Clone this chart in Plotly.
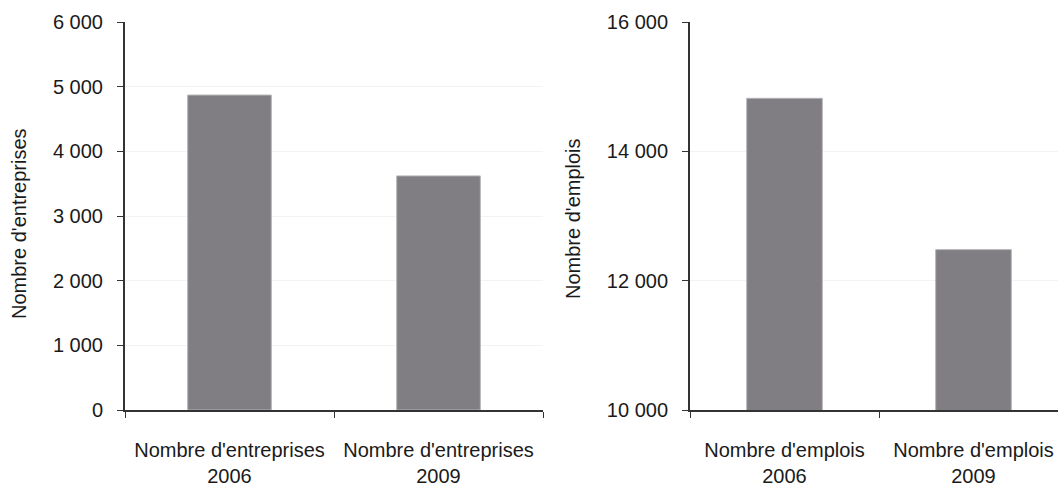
import plotly.graph_objects as go

# Categories and values for the two panels
cats_entreprises = ["Nombre d'entreprises<br>2006", "Nombre d'entreprises<br>2009"]
vals_entreprises = [4870, 3620]

cats_emplois = ["Nombre d'emplois<br>2006", "Nombre d'emplois<br>2009"]
vals_emplois = [14820, 12480]

ticks_entreprises = [0, 1000, 2000, 3000, 4000, 5000, 6000]
ticks_emplois = [10000, 12000, 14000, 16000]

W, H = 1058, 487
FONT = "Liberation Sans, Arial, sans-serif"
FS = 20
BAR = "#807e83"
AXIS = "#333333"
GRID = "#f3f3f3"
TXT = "#1a1a1a"

fig = go.Figure()
fig.add_trace(go.Bar(x=cats_entreprises, y=vals_entreprises, width=0.4,
                     marker=dict(color=BAR, line=dict(color="#b4b3b6", width=1)),
                     xaxis="x", yaxis="y", hoverinfo="skip"))
fig.add_trace(go.Bar(x=cats_emplois, y=vals_emplois, width=0.4,
                     marker=dict(color=BAR, line=dict(color="#b4b3b6", width=1)),
                     xaxis="x2", yaxis="y2", hoverinfo="skip"))

y0 = 1 - 410 / H
y1 = 1 - 22 / H

common_x = dict(type="category", showline=True, linecolor=AXIS, linewidth=2,
                ticks="outside", ticklen=6, tickcolor=AXIS, tickwidth=1,
                tickson="boundaries", showgrid=False, zeroline=False,
                tickangle=0, automargin=False,
                ticklabelstandoff=21, tickfont=dict(size=FS, color=TXT))
common_y = dict(showline=True, linecolor=AXIS, linewidth=2,
                ticks="outside", ticklen=6, tickcolor=AXIS, tickwidth=1,
                showgrid=True, gridcolor=GRID, gridwidth=1, zeroline=False,
                tickformat=",d", ticklabelstandoff=10, automargin=False,
                tickfont=dict(size=FS, color=TXT))

fig.update_layout(
    width=W, height=H,
    margin=dict(l=0, r=0, t=0, b=0),
    paper_bgcolor="white", plot_bgcolor="white",
    showlegend=False,
    separators=", ",
    font=dict(family=FONT, size=FS, color=TXT),
    xaxis=dict(domain=[125 / W, 543 / W], range=[-0.5, 1.5], anchor="y", **common_x),
    yaxis=dict(domain=[y0, y1], range=[0, 6000], tickvals=ticks_entreprises,
               anchor="x", **common_y),
    xaxis2=dict(domain=[690 / W, 1], range=[-0.5, 1.5 - 10 / 189], anchor="y2", **common_x),
    yaxis2=dict(domain=[y0, y1], range=[10000, 16000], tickvals=ticks_emplois,
                anchor="x2", **common_y),
    annotations=[
        dict(text="Nombre d'entreprises", textangle=-90, x=19 / W, y=1 - 224 / H,
             xref="paper", yref="paper", showarrow=False,
             xanchor="center", yanchor="middle", font=dict(size=FS)),
        dict(text="Nombre d'emplois", textangle=-90, x=573 / W, y=1 - 219 / H,
             xref="paper", yref="paper", showarrow=False,
             xanchor="center", yanchor="middle", font=dict(size=FS)),
    ],
)

fig.write_html("out.html")
